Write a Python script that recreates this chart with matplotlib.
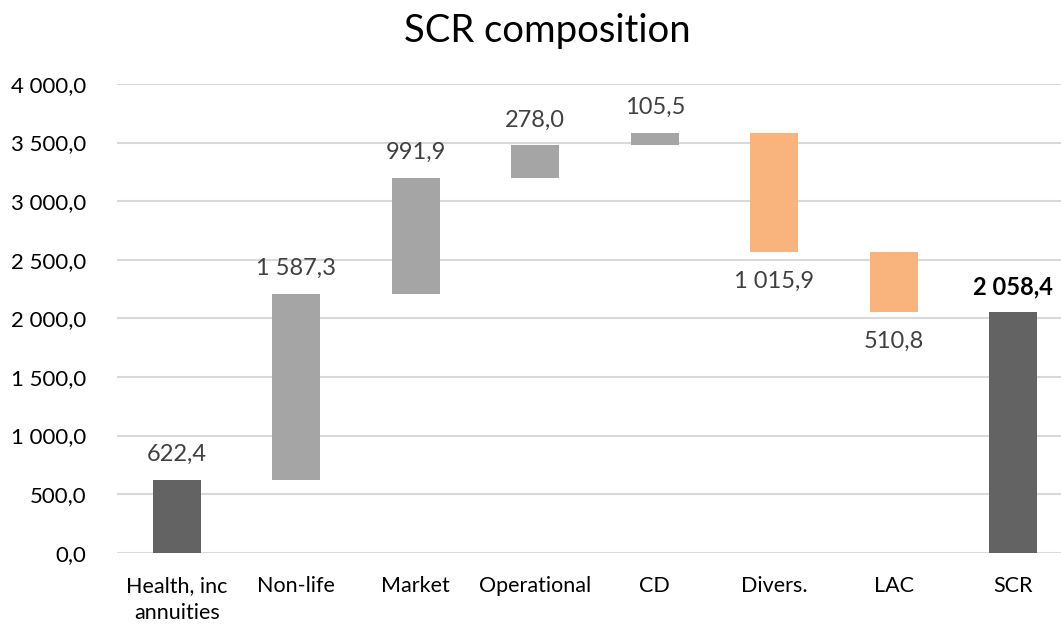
import matplotlib
matplotlib.use("Agg")
import matplotlib.pyplot as plt
import numpy as np

categories = ["Health, inc\nannuities", "Non-life", "Market", "Operational", "CD", "Divers.", "LAC", "SCR"]
values = [622.4, 1587.3, 991.9, 278.0, 105.5, -1015.9, -510.8, 2058.4]
is_total = [False, False, False, False, False, False, False, True]
yticks = [0, 500, 1000, 1500, 2000, 2500, 3000, 3500, 4000]

def fmt(v):
    s = f"{abs(v):,.1f}".replace(",", " ").replace(".", ",")
    return s

plt.rcParams['font.family'] = ['Lato', 'DejaVu Sans']

W, H = 1061, 624
fig = plt.figure(figsize=(W / 100, H / 100), dpi=100)
left_px, right_px = 117, 1073
top_px, bot_px = 84, 552.7
ax = fig.add_axes([left_px / W, (H - bot_px) / H, (right_px - left_px) / W, (bot_px - top_px) / H])

x = np.arange(len(categories))
bottoms, heights, colors = [], [], []
running = 0.0
for i, v in enumerate(values):
    if is_total[i] or i == 0:
        bottoms.append(0.0)
        heights.append(v)
        colors.append("#636363")
        running = v
    else:
        if v >= 0:
            bottoms.append(running)
            heights.append(v)
            colors.append("#A5A5A5")
        else:
            bottoms.append(running + v)
            heights.append(-v)
            colors.append("#F8B47C")
        running += v

ax.bar(x, heights, bottom=bottoms, width=0.40, color=colors, zorder=3)

for i, v in enumerate(values):
    top = bottoms[i] + heights[i]
    if v >= 0:
        ax.annotate(fmt(v), (x[i], top), xytext=(0, 25), textcoords="offset pixels",
                    ha="center", va="center", fontsize=17,
                    color="#000000" if is_total[i] else "#404040",
                    fontweight="bold" if is_total[i] else "normal")
    else:
        ax.annotate(fmt(v), (x[i], bottoms[i]), xytext=(0, -30), textcoords="offset pixels",
                    ha="center", va="center", fontsize=17, color="#404040")

ax.set_xlim(-0.5, len(categories) - 0.5)
ax.set_ylim(0, 4000)
ax.set_yticks(yticks)
ax.set_yticklabels([fmt(t) for t in yticks], fontsize=16, color="#000000")
ax.set_xticks(x)
ax.set_xticklabels(categories, fontsize=15.5, color="#000000", linespacing=1.4)
ax.tick_params(axis="both", length=0)
ax.tick_params(axis="y", pad=22)
ax.tick_params(axis="x", pad=17)
ax.grid(axis="y", color="#D9D9D9", linewidth=1.5, zorder=0)
for s in ax.spines.values():
    s.set_visible(False)

fig.text(547 / W, 1 - 31 / H, "SCR composition", ha="center", va="center", fontsize=27.5, color="#000000")

fig.savefig("out.png", dpi=100)
